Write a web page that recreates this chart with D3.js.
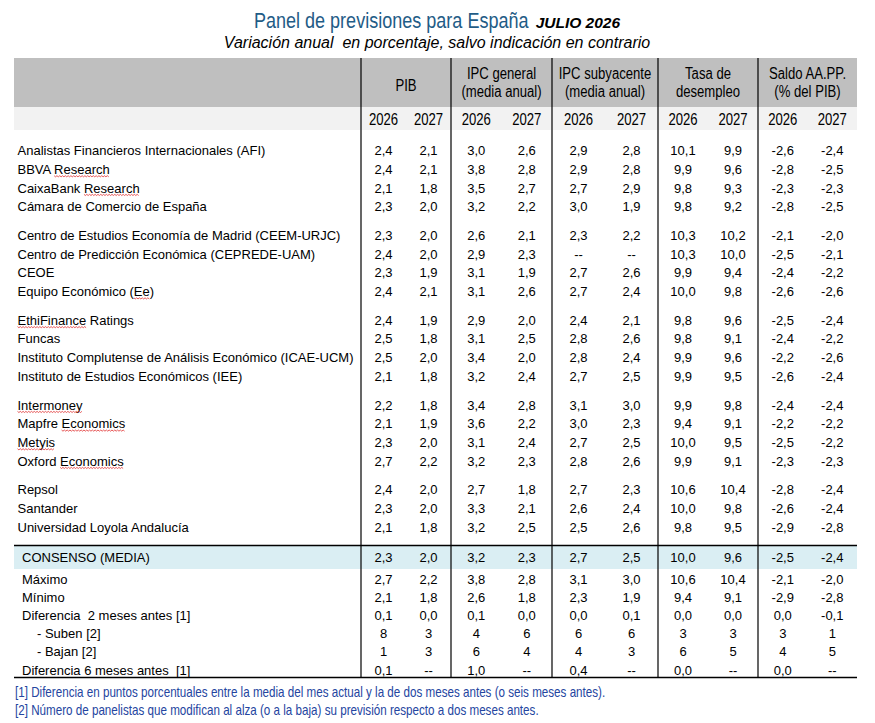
<!DOCTYPE html>
<html><head><meta charset="utf-8">
<script src="https://cdn.jsdelivr.net/npm/d3@7"></script>
<style>
html,body{margin:0;padding:0;background:#fff;}
svg{display:block;}
text{white-space:pre;}
</style></head><body>
<svg id="chart" width="875" height="723"></svg>
<script>
// ---------------- DATA ----------------
const titleText = "Panel de previsiones para España";
const titleDate = "JULIO 2026";
const subtitleText = "Variación anual  en porcentaje, salvo indicación en contrario";
const groupHeaders = [["PIB"], ["IPC general", "(media anual)"], ["IPC subyacente", "(media anual)"], ["Tasa de", "desempleo"], ["Saldo AA.PP.", "(% del PIB)"]];
const years = ["2026", "2027"];
const institutions = [
  "Analistas Financieros Internacionales (AFI)", "BBVA Research", "CaixaBank Research", "Cámara de Comercio de España",
  "Centro de Estudios Economía de Madrid (CEEM-URJC)", "Centro de Predicción Económica (CEPREDE-UAM)", "CEOE", "Equipo Económico (Ee)",
  "EthiFinance Ratings", "Funcas", "Instituto Complutense de Análisis Económico (ICAE-UCM)", "Instituto de Estudios Económicos (IEE)",
  "Intermoney", "Mapfre Economics", "Metyis", "Oxford Economics",
  "Repsol", "Santander", "Universidad Loyola Andalucía"
];
const blockSizes = [4, 4, 4, 4, 3];
const pib2026   = [2.4, 2.4, 2.1, 2.3, 2.3, 2.4, 2.3, 2.4, 2.4, 2.5, 2.5, 2.1, 2.2, 2.1, 2.3, 2.7, 2.4, 2.3, 2.1];
const pib2027   = [2.1, 2.1, 1.8, 2.0, 2.0, 2.0, 1.9, 2.1, 1.9, 1.8, 2.0, 1.8, 1.8, 1.9, 2.0, 2.2, 2.0, 2.0, 1.8];
const ipc2026   = [3.0, 3.8, 3.5, 3.2, 2.6, 2.9, 3.1, 3.1, 2.9, 3.1, 3.4, 3.2, 3.4, 3.6, 3.1, 3.2, 2.7, 3.3, 3.2];
const ipc2027   = [2.6, 2.8, 2.7, 2.2, 2.1, 2.3, 1.9, 2.6, 2.0, 2.5, 2.0, 2.4, 2.8, 2.2, 2.4, 2.3, 1.8, 2.1, 2.5];
const sub2026   = [2.9, 2.9, 2.7, 3.0, 2.3, null, 2.7, 2.7, 2.4, 2.8, 2.8, 2.7, 3.1, 3.0, 2.7, 2.8, 2.7, 2.6, 2.5];
const sub2027   = [2.8, 2.8, 2.9, 1.9, 2.2, null, 2.6, 2.4, 2.1, 2.6, 2.4, 2.5, 3.0, 2.3, 2.5, 2.6, 2.3, 2.4, 2.6];
const paro2026  = [10.1, 9.9, 9.8, 9.8, 10.3, 10.3, 9.9, 10.0, 9.8, 9.8, 9.9, 9.9, 9.9, 9.4, 10.0, 9.9, 10.6, 10.0, 9.8];
const paro2027  = [9.9, 9.6, 9.3, 9.2, 10.2, 10.0, 9.4, 9.8, 9.6, 9.1, 9.6, 9.5, 9.8, 9.1, 9.5, 9.1, 10.4, 9.8, 9.5];
const saldo2026 = [-2.6, -2.8, -2.3, -2.8, -2.1, -2.5, -2.4, -2.6, -2.5, -2.4, -2.2, -2.6, -2.4, -2.2, -2.5, -2.3, -2.8, -2.6, -2.9];
const saldo2027 = [-2.4, -2.5, -2.3, -2.5, -2.0, -2.1, -2.2, -2.6, -2.4, -2.2, -2.6, -2.4, -2.4, -2.2, -2.2, -2.3, -2.4, -2.4, -2.8];

const consensoLabel = "CONSENSO (MEDIA)";
const consenso = [2.3, 2.0, 3.2, 2.3, 2.7, 2.5, 10.0, 9.6, -2.5, -2.4];
const summaryLabels = ["Máximo", "Mínimo", "Diferencia  2 meses antes [1]", "- Suben [2]", "- Bajan [2]", "Diferencia 6 meses antes  [1]"];
const summaryIndent = [0, 0, 0, 1, 1, 0];
const summaryIsCount = [false, false, false, true, true, false];
const maximo  = [2.7, 2.2, 3.8, 2.8, 3.1, 3.0, 10.6, 10.4, -2.1, -2.0];
const minimo  = [2.1, 1.8, 2.6, 1.8, 2.3, 1.9, 9.4, 9.1, -2.9, -2.8];
const dif2    = [0.1, 0.0, 0.1, 0.0, 0.0, 0.1, 0.0, 0.0, 0.0, -0.1];
const suben   = [8, 3, 4, 6, 6, 6, 3, 3, 3, 1];
const bajan   = [1, 3, 6, 4, 4, 3, 6, 5, 4, 5];
const dif6    = [0.1, null, 1.0, null, 0.4, null, 0.0, null, 0.0, null];

const footnotes = [
  "[1] Diferencia en puntos porcentuales entre la media del mes actual y la de dos meses antes (o seis meses antes).",
  "[2] Número de panelistas que modifican al alza (o a la baja) su previsión respecto a dos meses antes."
];
const spellFlagged = ["Research", "Ee", "EthiFinance", "Intermoney", "Economics", "Metyis"];

// ---------------- LAYOUT ----------------
const svg = d3.select("#chart");
const FONT = "'Liberation Sans', Arial, sans-serif";
const NARROW_FACTOR = 0.82;
const tableLeft = 14, tableRight = 857;
const groupEdges = [361, 451, 552, 658, 758, 857];
const headTop = 58, headMid = 107, headBottom = 130;
const tableBottom = 677.5;

// condensed text (Arial Narrow look): Liberation Sans squeezed horizontally via transform
function narrowText(parent, str, x, y, size, anchor, fill) {
  const s = parent.append("text").attr("x", 0).attr("y", 0)
    .style("font-family", FONT).style("font-size", size + "px").attr("fill", fill || "#000").text(str);
  const w = s.node().getComputedTextLength() * NARROW_FACTOR;
  const place = (xx) => {
    const x0 = anchor === "middle" ? xx - w / 2 : anchor === "end" ? xx - w : xx;
    s.attr("transform", `translate(${x0},${y}) scale(${NARROW_FACTOR},1)`);
  };
  place(x);
  return {sel: s, width: w, place};
}
// multi-line centred condensed text, one <text> element with tspans
function narrowLines(parent, lines, cx, baselines, size, fill) {
  const g = parent.append("g").attr("transform", `translate(${cx},0) scale(${NARROW_FACTOR},1)`);
  const t = g.append("text").attr("text-anchor", "middle")
    .style("font-family", FONT).style("font-size", size + "px").attr("fill", fill || "#000");
  lines.forEach((ln, i) => t.append("tspan").attr("x", 0).attr("y", baselines[i]).text(ln));
  return t;
}

const fmt = d3.formatLocale({decimal: ",", thousands: ".", grouping: [3], currency: ["", "€"], minus: "-"}).format(".1f");
const fmtVal = (v, isCount) => v == null ? "--" : (isCount ? String(v) : fmt(v));

// column scales
const colScales = groupEdges.slice(0, -1).map((e, g) =>
  d3.scalePoint().domain(years).range([e, groupEdges[g + 1]]).padding(0.5));
const columns = [];
groupHeaders.forEach((h, g) => years.forEach(y => columns.push({g, y, x: colScales[g](y)})));

// row scale (institution rows)
const rowPitch = 18.67, gapRatio = 10.1 / 18.67;
const slotY = d3.scaleLinear().domain([0, 1]).range([150.7, 150.7 + rowPitch]);
const rowSlots = [];
blockSizes.forEach((n, b) => { for (let k = 0; k < n; k++) rowSlots.push(rowSlots.length + b * gapRatio); });
const summaryY = d3.scaleLinear().domain([0, 1]).range([579, 597.2]);
const consensoY = 557.5;

// ---------------- BACKGROUNDS ----------------
svg.append("rect").attr("x", tableLeft).attr("y", headTop).attr("width", tableRight - tableLeft).attr("height", headMid - headTop).attr("fill", "#bfbfbf");
svg.append("rect").attr("x", tableLeft).attr("y", headMid).attr("width", tableRight - tableLeft).attr("height", headBottom - headMid).attr("fill", "#f2f2f2");
svg.append("rect").attr("x", tableLeft).attr("y", 546).attr("width", tableRight - tableLeft).attr("height", 23).attr("fill", "#daeef3");

// ---------------- TITLE ----------------
const titleG = svg.append("g");
const tMain = narrowText(titleG, titleText, 0, 27.7, 22, "start", "#1f5c86");
const tDate = titleG.append("text").attr("y", 27.7)
  .style("font-family", FONT).style("font-size", "15.5px").style("font-weight", "bold").style("font-style", "italic")
  .attr("fill", "#000").text(titleDate);
const dateW = tDate.node().getComputedTextLength();
const titleGap = 7;
const titleStart = 437 - (tMain.width + titleGap + dateW) / 2;
tMain.place(titleStart);
tDate.attr("x", titleStart + tMain.width + titleGap);

svg.append("text").attr("x", 437).attr("y", 47.5).attr("text-anchor", "middle")
  .style("font-family", FONT).style("font-size", "16px").style("font-style", "italic").attr("fill", "#000").text(subtitleText);

// ---------------- HEADERS ----------------
const headG = svg.append("g");
groupHeaders.forEach((lines, g) => {
  const cx = (groupEdges[g] + groupEdges[g + 1]) / 2;
  const base = lines.length === 1 ? [90.7] : [78.8, 96.7];
  narrowLines(headG, lines, cx, base, 16, "#000");
});
columns.forEach(c => narrowText(headG, c.y, c.x, 124.8, 16, "middle", "#000"));

// ---------------- INSTITUTION ROWS ----------------
const series = [pib2026, pib2027, ipc2026, ipc2027, sub2026, sub2027, paro2026, paro2027, saldo2026, saldo2027];
const rowsG = svg.append("g").style("font-family", FONT).style("font-size", "13px").attr("fill", "#000");
const labels = rowsG.selectAll("text.lab").data(institutions).join("text").attr("class", "lab")
  .attr("x", 17.5).attr("y", (d, i) => slotY(rowSlots[i])).attr("dy", "0.35em").text(d => d);
institutions.forEach((name, i) => {
  rowsG.append("g").selectAll("text").data(columns).join("text")
    .attr("x", d => d.x).attr("y", slotY(rowSlots[i])).attr("dy", "0.35em").attr("text-anchor", "middle")
    .text((d, c) => fmtVal(series[c][i], false));
});

// spell-check wavy underlines
labels.each(function (name, i) {
  const node = this;
  spellFlagged.forEach(w => {
    const re = new RegExp("\\b" + w + "\\b");
    const m = name.match(re);
    if (!m) return;
    const idx = m.index;
    const x0 = 17.5 + (idx > 0 ? node.getSubStringLength(0, idx) : 0);
    const x1 = x0 + node.getSubStringLength(idx, w.length);
    const yb = slotY(rowSlots[i]) + 0.35 * 13 + 1.8;
    const pts = d3.range(x0, x1, 1.4).map((x, k) => [x, yb + (k % 2 ? 1.1 : 0)]);
    svg.append("path").attr("d", d3.line()(pts)).attr("fill", "none").attr("stroke", "#e03030").attr("stroke-width", 0.8);
  });
});

// ---------------- SUMMARY ----------------
const sumG = svg.append("g").style("font-family", FONT).style("font-size", "13px").attr("fill", "#000");
sumG.append("text").attr("x", 22).attr("y", consensoY).attr("dy", "0.35em").text(consensoLabel);
sumG.append("g").selectAll("text").data(columns).join("text")
  .attr("x", d => d.x).attr("y", consensoY).attr("dy", "0.35em").attr("text-anchor", "middle")
  .text((d, c) => fmtVal(consenso[c], false));
const summarySeries = [maximo, minimo, dif2, suben, bajan, dif6];
summaryLabels.forEach((lab, r) => {
  sumG.append("text").attr("x", summaryIndent[r] ? 37 : 22).attr("y", summaryY(r)).attr("dy", "0.35em").text(lab);
  sumG.append("g").selectAll("text").data(columns).join("text")
    .attr("x", d => d.x).attr("y", summaryY(r)).attr("dy", "0.35em").attr("text-anchor", "middle")
    .text((d, c) => fmtVal(summarySeries[r][c], summaryIsCount[r]));
});

// ---------------- RULES ----------------
svg.append("g").selectAll("line").data(groupEdges.slice(0, -1)).join("line")
  .attr("x1", d => d).attr("x2", d => d).attr("y1", headTop).attr("y2", tableBottom)
  .attr("stroke", "#000").attr("stroke-width", 1.2);
svg.append("line").attr("x1", tableLeft).attr("x2", tableRight).attr("y1", 545.5).attr("y2", 545.5).attr("stroke", "#000").attr("stroke-width", 1.4);
svg.append("line").attr("x1", tableLeft).attr("x2", tableRight).attr("y1", tableBottom).attr("y2", tableBottom).attr("stroke", "#000").attr("stroke-width", 1.4);

// ---------------- FOOTNOTES ----------------
const fnG = svg.append("g");
footnotes.forEach((f, i) => narrowText(fnG, f, 15, 697 + i * 18, 14.2, "start", "#2445a0"));
</script>
</body></html>
